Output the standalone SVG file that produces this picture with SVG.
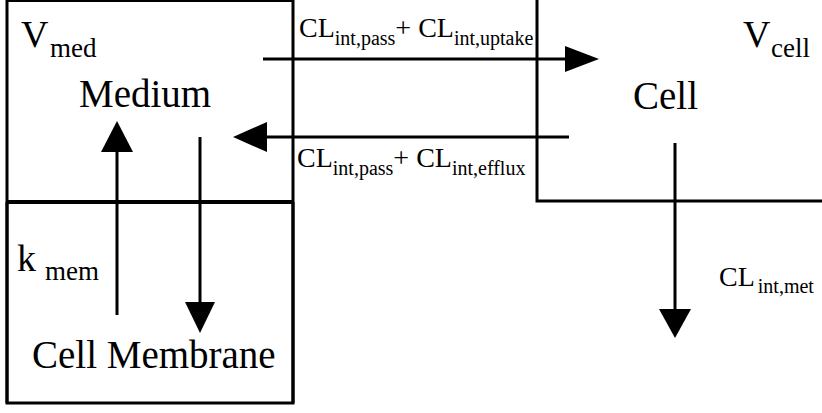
<svg xmlns="http://www.w3.org/2000/svg" width="822" height="413" viewBox="0 0 822 413">
<style>
.box{fill:none;stroke:#000;stroke-width:3}
.div{fill:none;stroke:#000;stroke-width:4}
.ln{fill:none;stroke:#000;stroke-width:3}
.hd{fill:#000;stroke:none}
text{font-family:'Liberation Serif','DejaVu Serif',serif;fill:#000}
.big{font-size:39px}
.v{font-size:38px}
.vs{font-size:27px}
.cl{font-size:28px}
.cs{font-size:20px}
</style>
<rect x="0" y="0" width="822" height="413" fill="#fff"/>
<g id="medium">
<path class="box" d="M7,403 V0.5 H293 V403"/>
<text x="21" y="47" class="v">V<tspan x="50" y="57" class="vs">med</tspan></text>
<text x="79" y="107" class="big">Medium</text>
</g>
<g id="membrane">
<path class="div" d="M7,202 H293"/>
<path class="box" d="M7,202 V403 H293 V202"/>
<text x="17" y="271" class="v">k<tspan x="45" y="280" class="vs">mem</tspan></text>
<text x="32" y="368" class="big">Cell Membrane</text>
</g>
<g id="cell">
<path class="box" d="M537,0 V201 H822"/>
<text x="743" y="47" class="v">V<tspan x="771" y="57" class="vs">cell</tspan></text>
<text x="633" y="109" class="big">Cell</text>
</g>
<g id="connectors">
<line class="ln" x1="263" y1="59" x2="567" y2="59"/>
<polygon class="hd" points="565,46 599,59 565,72"/>
<line class="ln" x1="569" y1="137" x2="265" y2="137"/>
<polygon class="hd" points="267,122 233,137 267,152"/>
<line class="ln" x1="117" y1="315" x2="117" y2="150"/>
<polygon class="hd" points="101,152 117,121 133,152"/>
<line class="ln" x1="200" y1="137" x2="200" y2="304"/>
<polygon class="hd" points="185,302 200,333 215,302"/>
<line class="ln" x1="675" y1="143" x2="675" y2="311"/>
<polygon class="hd" points="659,309 675,338 691,309"/>
<text x="299" y="37" class="cl">CL<tspan dy="8" class="cs">int,pass</tspan><tspan dy="-8">+ CL</tspan><tspan dy="8" class="cs">int,uptake</tspan></text>
<text x="297" y="167" class="cl">CL<tspan dy="8" class="cs">int,pass</tspan><tspan dy="-8">+ CL</tspan><tspan dy="8" class="cs">int,efflux</tspan></text>
<text x="719" y="286" class="cl">CL<tspan dx="3" dy="7" class="cs">int,met</tspan></text>
</g>
</svg>
